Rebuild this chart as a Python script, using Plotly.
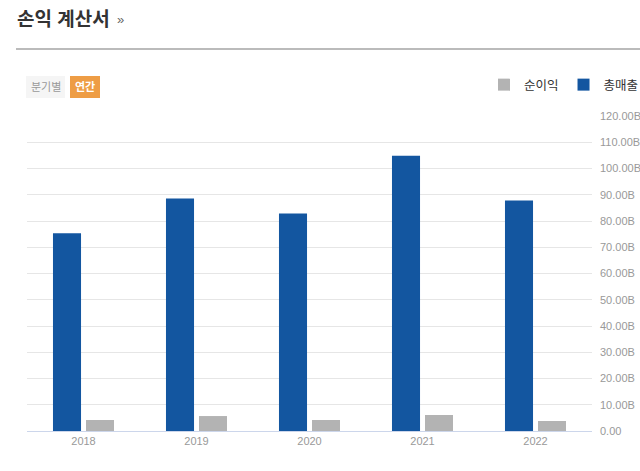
import plotly.graph_objects as go

years = ["2018", "2019", "2020", "2021", "2022"]
revenue = [75.3, 88.6, 82.9, 104.9, 87.8]   # 총매출 (B)
net_income = [4.2, 5.7, 4.2, 6.1, 3.8]     # 순이익 (B)
tick_vals = [0, 10, 20, 30, 40, 50, 60, 70, 80, 90, 100, 110, 120]
tick_text = ["0.00"] + [f"{v:.2f}B" for v in tick_vals[1:]]

W, H = 640, 471
L, R, T, B = 27, 48, 116, 40
PW, PH = W - L - R, H - T - B

def px(x):
    return (x - L) / PW

def py(y):
    return (H - B - y) / PH

FONT = "Liberation Sans, Arial, Noto Sans CJK KR, sans-serif"

fig = go.Figure()
fig.add_trace(go.Bar(name="총매출", x=years, y=revenue, marker_color="#1356a0",
                     marker_line_width=0))
fig.add_trace(go.Bar(name="순이익", x=years, y=net_income, marker_color="#b3b3b3",
                     marker_line_width=0))

fig.update_layout(
    width=W, height=H,
    margin=dict(l=L, r=R, t=T, b=B, autoexpand=False),
    paper_bgcolor="white", plot_bgcolor="white",
    barmode="group", bargap=0.416, bargroupgap=0.15,
    font=dict(family=FONT, color="#999999", size=11),
    showlegend=True,
    legend=dict(orientation="h", traceorder="reversed", x=px(644), xref="paper",
                xanchor="right", y=py(85), yanchor="middle",
                font=dict(size=12.5, color="#333333"), itemwidth=30,
                bgcolor="rgba(0,0,0,0)"),
    xaxis=dict(showgrid=False, showline=True, linecolor="#ccd6eb", linewidth=1,
               ticks="", tickfont=dict(size=11, color="#999999"), fixedrange=True,
               automargin=False),
    yaxis=dict(side="right", range=[0, 120], tickvals=tick_vals, ticktext=tick_text,
               showgrid=True, gridcolor="#e6e6e6", gridwidth=1, zeroline=False,
               tickfont=dict(size=11, color="#999999"), ticks="", ticklabelstandoff=7,
               automargin=False),
)

shapes = [
    dict(type="line", xref="paper", yref="paper", x0=px(16), x1=px(640), y0=py(49), y1=py(49),
         line=dict(color="#bbbbbb", width=2)),
    dict(type="rect", xref="paper", yref="paper", x0=px(26), x1=px(65), y0=py(98), y1=py(76),
         fillcolor="#f5f5f5", line=dict(width=0)),
    dict(type="rect", xref="paper", yref="paper", x0=px(70), x1=px(100), y0=py(98), y1=py(76),
         fillcolor="#ee9d45", line=dict(width=0)),
]
annotations = [
    dict(text="<b>손익 계산서</b>", xref="paper", yref="paper", x=px(15), y=py(19),
         xanchor="left", yanchor="middle", showarrow=False,
         font=dict(size=19, color="#333333", family=FONT)),
    dict(text="»", xref="paper", yref="paper", x=px(115), y=py(20),
         xanchor="left", yanchor="middle", showarrow=False,
         font=dict(size=13, color="#666666", family=FONT)),
    dict(text="분기별", xref="paper", yref="paper", x=px(45.5), y=py(87),
         xanchor="center", yanchor="middle", showarrow=False,
         font=dict(size=11, color="#999999", family=FONT)),
    dict(text="<b>연간</b>", xref="paper", yref="paper", x=px(85), y=py(87),
         xanchor="center", yanchor="middle", showarrow=False,
         font=dict(size=11, color="#ffffff", family=FONT)),
]
fig.update_layout(shapes=shapes, annotations=annotations)

fig.write_html("out.html")
